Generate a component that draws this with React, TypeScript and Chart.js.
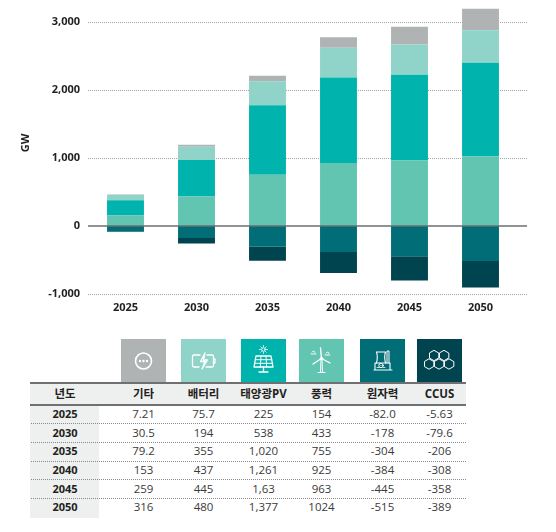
import React, { useEffect, useRef } from "react";
import { Chart, registerables } from "chart.js";
Chart.register(...registerables);

const years = ["2025", "2030", "2035", "2040", "2045", "2050"];
const otherVals = [7.21, 30.5, 79.2, 153, 259, 316];
const batteryVals = [75.7, 194, 355, 437, 445, 480];
const solarVals = [225, 538, 1020, 1261, 1263, 1377];
const windVals = [154, 433, 755, 925, 963, 1024];
const nuclearVals = [-82.0, -178, -304, -384, -445, -515];
const ccusVals = [-5.63, -79.6, -206, -308, -358, -389];
const yTicks = [-1000, 0, 1000, 2000, 3000];
const seriesNames = ["기타", "배터리", "태양광PV", "풍력", "원자력", "CCUS"];
const yearHeader = "년도";
const unitLabel = "GW";
// table texts as printed in the picture
const otherText = ["7.21", "30.5", "79.2", "153", "259", "316"];
const batteryText = ["75.7", "194", "355", "437", "445", "480"];
const solarText = ["225", "538", "1,020", "1,261", "1,63", "1,377"];
const windText = ["154", "433", "755", "925", "963", "1024"];
const nuclearText = ["-82.0", "-178", "-304", "-384", "-445", "-515"];
const ccusText = ["-5.63", "-79.6", "-206", "-308", "-358", "-389"];

const C_OTHER = "#b0b3b4";
const C_BATTERY = "#8fd3c9";
const C_SOLAR = "#00b4ad";
const C_WIND = "#62c5b1";
const C_NUCLEAR = "#006d77";
const C_CCUS = "#00444f";

const FONT = "'Open Sans', 'Noto Sans CJK KR', sans-serif";
const TEXT = "#231f20";

const colCenters = [143.5, 203.5, 263.5, 321.5, 382.5, 439.5];
const colColors = [C_OTHER, C_BATTERY, C_SOLAR, C_WIND, C_NUCLEAR, C_CCUS];
const rowCenters = [414, 432.5, 451, 470, 488.5, 507];
const sepLines = [423, 442, 461, 479, 498];

const gridPlugin = {
  id: "customGrid",
  beforeDatasetsDraw(chart: any) {
    const { ctx, chartArea, scales } = chart;
    const y = scales.y;
    ctx.save();
    ctx.strokeStyle = "#a3a3a3";
    ctx.lineWidth = 1;
    ctx.setLineDash([1, 1]);
    yTicks.forEach((v) => {
      if (v === 0) return;
      const py = Math.round(y.getPixelForValue(v)) + 0.5;
      ctx.beginPath();
      ctx.moveTo(chartArea.left - 2, py);
      ctx.lineTo(chartArea.right + 11, py);
      ctx.stroke();
    });
    ctx.restore();
  },
  afterDatasetsDraw(chart: any) {
    const { ctx, chartArea, scales } = chart;
    const py = scales.y.getPixelForValue(0);
    ctx.save();
    ctx.strokeStyle = "#6d6e71";
    ctx.lineWidth = 1.5;
    ctx.beginPath();
    ctx.moveTo(chartArea.left - 2, py);
    ctx.lineTo(chartArea.right + 11, py);
    ctx.stroke();
    ctx.restore();
  },
  afterDraw(chart: any) {
    const { ctx, scales } = chart;
    const y = scales.y;
    ctx.save();
    ctx.translate(26, (y.getPixelForValue(1000) + y.getPixelForValue(2000)) / 2 + 19);
    ctx.rotate(-Math.PI / 2);
    ctx.font = `bold 11px ${FONT}`;
    ctx.fillStyle = TEXT;
    ctx.textAlign = "center";
    ctx.textBaseline = "middle";
    ctx.fillText(unitLabel, 0, 0);
    ctx.restore();
  },
};

function ChartCanvas() {
  const ref = useRef<HTMLCanvasElement | null>(null);
  useEffect(() => {
    if (!ref.current) return;
    const mk = (label: string, data: number[], color: string) => ({
      label,
      data,
      backgroundColor: color,
      borderWidth: 0,
      barPercentage: 0.52,
      categoryPercentage: 1,
      clip: false,
    });
    const chart = new Chart(ref.current, {
      type: "bar",
      data: {
        labels: years,
        datasets: [
          mk(seriesNames[3], windVals, C_WIND),
          mk(seriesNames[2], solarVals, C_SOLAR),
          mk(seriesNames[1], batteryVals, C_BATTERY),
          mk(seriesNames[0], otherVals, C_OTHER),
          mk(seriesNames[4], nuclearVals, C_NUCLEAR),
          mk(seriesNames[5], ccusVals, C_CCUS),
        ],
      },
      options: {
        animation: false,
        responsive: false,
        maintainAspectRatio: false,
        devicePixelRatio: 1,
        layout: { padding: { left: 0, right: 40, top: 0, bottom: 0 } },
        plugins: { legend: { display: false }, tooltip: { enabled: false } },
        scales: {
          x: {
            stacked: true,
            grid: { display: false, drawTicks: false },
            border: { display: false },
            ticks: { font: { family: FONT, size: 11, weight: "bold" }, color: TEXT, padding: 7 },
            afterFit: (s: any) => {
              s.height = 26;
            },
          },
          y: {
            stacked: true,
            min: -1000,
            max: 3080,
            grid: { display: false, drawTicks: false },
            border: { display: false },
            afterBuildTicks: (s: any) => {
              s.ticks = yTicks.map((v) => ({ value: v }));
            },
            ticks: { font: { family: FONT, size: 11, weight: "bold" }, color: TEXT, padding: 10 },
            afterFit: (s: any) => {
              s.width = 90;
            },
          },
        },
      } as any,
      plugins: [gridPlugin],
    });
    return () => chart.destroy();
  }, []);
  return <canvas ref={ref} width={556} height={320} style={{ position: "absolute", left: 0, top: 0, width: 556, height: 320 }} />;
}

const S = { stroke: "#fff", strokeWidth: 1.3, fill: "none", strokeLinecap: "round" as const, strokeLinejoin: "round" as const };

function Icon({ i }: { i: number }) {
  if (i === 0)
    return (
      <svg width="45" height="44" viewBox="0 0 45 44">
        <circle cx="22.5" cy="22" r="8" {...S} strokeWidth={1.6} />
        <circle cx="19" cy="22" r="1.2" fill="#fff" />
        <circle cx="22.5" cy="22" r="1.2" fill="#fff" />
        <circle cx="26" cy="22" r="1.2" fill="#fff" />
      </svg>
    );
  if (i === 1)
    return (
      <svg width="45" height="44" viewBox="0 0 45 44">
        <path d="M19 16 H13 a1.5 1.5 0 0 0 -1.5 1.5 V26.5 a1.5 1.5 0 0 0 1.5 1.5 H18" {...S} />
        <path d="M26 16 H31 a1.5 1.5 0 0 1 1.5 1.5 V26.5 a1.5 1.5 0 0 1 -1.5 1.5 H25" {...S} />
        <path d="M32.5 20 H34 V24 H32.5" {...S} />
        <path d="M24 14 L19.5 22.5 H24 L21 30 L26.5 21 H22.5 L24 14" {...S} />
      </svg>
    );
  if (i === 2)
    return (
      <svg width="45" height="44" viewBox="0 0 45 44">
        <circle cx="22.5" cy="10.5" r="1.8" {...S} strokeWidth={1} />
        <path d="M22.5 6.5 V7.5 M22.5 13.5 V14.5 M18.5 10.5 H19.5 M25.5 10.5 H26.5 M19.8 7.8 L20.5 8.5 M24.5 12.5 L25.2 13.2 M25.2 7.8 L24.5 8.5 M20.5 12.5 L19.8 13.2" {...S} strokeWidth={0.8} />
        <path d="M15 17 H30 L32 28 H13 Z" {...S} />
        <path d="M14.2 20.7 H30.8 M13.6 24.3 H31.4 M20 17 L19.3 28 M25 17 L25.7 28" {...S} strokeWidth={1} />
        <path d="M22.5 28 V32 M18 33 H27" {...S} />
      </svg>
    );
  if (i === 3)
    return (
      <svg width="45" height="44" viewBox="0 0 45 44">
        <path d="M21.5 33 L22 20 H23 L23.5 33 M19 33.5 H26" {...S} strokeWidth={1} />
        <path d="M22.5 19.5 L21.5 9 M22.5 19.5 L14 25 M22.5 19.5 L31 24" {...S} strokeWidth={1.4} />
        <circle cx="22.5" cy="19.5" r="1.3" {...S} strokeWidth={1} />
        <path d="M13 13 C15 11 17 13 15.5 14 M12 15 H17 M27 14 C29 12 31 14 29.5 15 M26 16 H31" {...S} strokeWidth={0.9} />
      </svg>
    );
  if (i === 4)
    return (
      <svg width="45" height="44" viewBox="0 0 45 44">
        <path d="M14 31 H32 M15 31 V24 H30 V31" {...S} strokeWidth={1.1} />
        <path d="M16.5 24 C17.5 20 17.5 16 16.5 13 H25.5 C24.5 16 24.5 20 25.5 24" {...S} strokeWidth={1.1} />
        <path d="M27 24 V12 H29 V24" {...S} strokeWidth={1} />
        <circle cx="21" cy="26.5" r="2.2" {...S} strokeWidth={1} />
        <circle cx="21" cy="26.5" r="0.6" fill="#fff" />
        <path d="M17 28.5 H19 M23 28.5 H25" {...S} strokeWidth={0.8} />
      </svg>
    );
  return (
    <svg width="45" height="44" viewBox="0 0 45 44">
      {[
        [17, 16.5],
        [27, 16.5],
        [22, 25],
        [32, 25],
        [12, 25],
      ].map(([cx, cy], k) => {
        const r = 5.2;
        const pts = [0, 1, 2, 3, 4, 5]
          .map((j) => {
            const a = (Math.PI / 3) * j + Math.PI / 6;
            return `${(cx + r * Math.cos(a)).toFixed(2)},${(cy + r * Math.sin(a)).toFixed(2)}`;
          })
          .join(" ");
        return <polygon key={k} points={pts} {...S} strokeWidth={1} />;
      })}
    </svg>
  );
}

export default function App() {
  const cols = [otherText, batteryText, solarText, windText, nuclearText, ccusText];
  const abs = (o: any) => ({ position: "absolute" as const, ...o });
  return (
    <div style={abs({ left: 0, top: 0, width: 556, height: 532, background: "#fff", fontFamily: FONT, color: TEXT })}>
      <ChartCanvas />
      {colCenters.map((cx, i) => (
        <div key={"ic" + i} style={abs({ left: cx - 22.5, top: 339, width: 45, height: 44, background: colColors[i] })}>
          <Icon i={i} />
        </div>
      ))}
      <div style={abs({ left: 30, top: 384, width: 436, height: 20, background: "#eeefef" })} />
      <div style={abs({ left: 30, top: 382, width: 436, height: 2, background: "#6f7072" })} />
      <div style={abs({ left: 30, top: 404, width: 436, height: 1.5, background: "#6f7072" })} />
      <div style={abs({ left: 30, top: 405.5, width: 69, height: 112, background: "#eeefef" })} />
      {sepLines.map((y, i) => (
        <div key={"sl" + i} style={abs({ left: 31, top: y, width: 435, height: 0, borderTop: "1px dotted #8a8a8a" })} />
      ))}
      <div style={abs({ left: 30, width: 70, top: 394, transform: "translateY(-50%)", textAlign: "center", fontWeight: 700, fontSize: 11.5, lineHeight: "14px" })}>
        {yearHeader}
      </div>
      {seriesNames.map((n, i) => (
        <div key={"h" + i} style={abs({ left: colCenters[i] - 40, width: 80, top: 394, transform: "translateY(-50%)", textAlign: "center", fontWeight: 700, fontSize: 11.5, lineHeight: "14px" })}>
          {n}
        </div>
      ))}
      {years.map((yr, r) => (
        <React.Fragment key={"r" + r}>
          <div style={abs({ left: 30, width: 70, top: rowCenters[r], transform: "translateY(-50%)", textAlign: "center", fontWeight: 700, fontSize: 11, lineHeight: "14px" })}>
            {yr}
          </div>
          {cols.map((col, c) => (
            <div key={"c" + c} style={abs({ left: colCenters[c] - 40, width: 80, top: rowCenters[r], transform: "translateY(-50%)", textAlign: "center", fontSize: 11.5, lineHeight: "14px", color: "#3a3a3a" })}>
              {col[r]}
            </div>
          ))}
        </React.Fragment>
      ))}
    </div>
  );
}
